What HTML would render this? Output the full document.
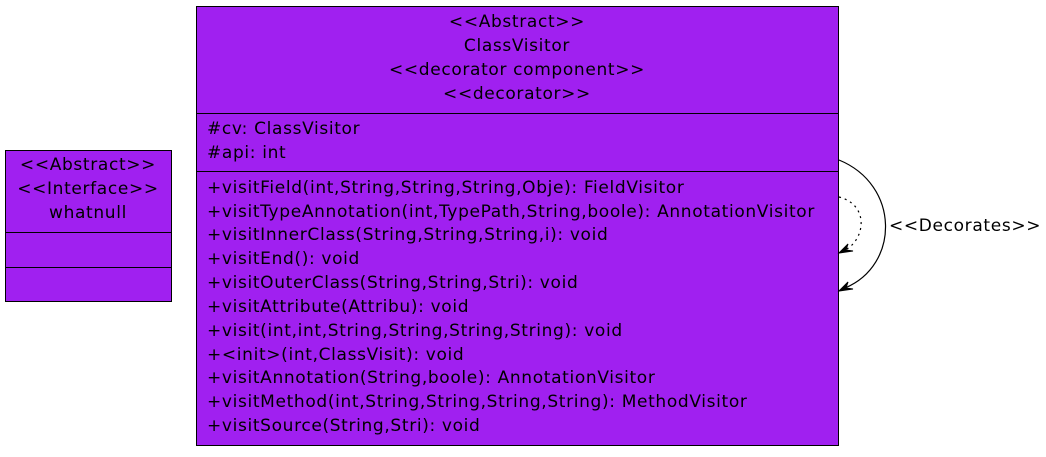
<!DOCTYPE html>
<html><head><style>body{margin:0;background:#fff}</style></head><body>
<svg width="1046" height="452" xmlns="http://www.w3.org/2000/svg" font-family="DejaVu Sans, sans-serif" font-size="17" letter-spacing="0.65" fill="#000">
<rect width="1046" height="452" fill="#fff"/>
<rect x="5.5" y="150.5" width="166" height="151" fill="#a020f0" stroke="#000"/>
<line x1="5" y1="232.5" x2="172" y2="232.5" stroke="#000"/>
<line x1="5" y1="267.5" x2="172" y2="267.5" stroke="#000"/>
<g text-anchor="middle">
<text x="88" y="170">&lt;&lt;Abstract&gt;&gt;</text>
<text x="88" y="194">&lt;&lt;Interface&gt;&gt;</text>
<text x="88" y="218">whatnull</text>
</g>
<rect x="196.5" y="6.5" width="642" height="439" fill="#a020f0" stroke="#000"/>
<line x1="196" y1="113.5" x2="839" y2="113.5" stroke="#000"/>
<line x1="196" y1="171.5" x2="839" y2="171.5" stroke="#000"/>
<g text-anchor="middle">
<text x="517" y="27">&lt;&lt;Abstract&gt;&gt;</text>
<text x="517" y="51">ClassVisitor</text>
<text x="517" y="75">&lt;&lt;decorator component&gt;&gt;</text>
<text x="517" y="99">&lt;&lt;decorator&gt;&gt;</text>
</g>
<g>
<text x="207" y="134">#cv: ClassVisitor</text>
<text x="207" y="158">#api: int</text>
<text x="207" y="193">+visitField(int,String,String,String,Obje): FieldVisitor</text>
<text x="207" y="217">+visitTypeAnnotation(int,TypePath,String,boole): AnnotationVisitor</text>
<text x="207" y="240">+visitInnerClass(String,String,String,i): void</text>
<text x="207" y="264">+visitEnd(): void</text>
<text x="207" y="288">+visitOuterClass(String,String,Stri): void</text>
<text x="207" y="312">+visitAttribute(Attribu): void</text>
<text x="207" y="336">+visit(int,int,String,String,String,String): void</text>
<text x="207" y="360">+&lt;init&gt;(int,ClassVisit): void</text>
<text x="207" y="383">+visitAnnotation(String,boole): AnnotationVisitor</text>
<text x="207" y="407">+visitMethod(int,String,String,String,String): MethodVisitor</text>
<text x="207" y="431">+visitSource(String,Stri): void</text>
</g>
<path d="M839,160 C900,185 900,265 845,288" fill="none" stroke="#000" stroke-width="1.2"/>
<path d="M839,291 L848,282 L846,288 L853,289 Z" fill="#000" stroke="#000"/>
<path d="M839,197 C870,205 865,240 845,250" fill="none" stroke="#000" stroke-width="1.2" stroke-dasharray="2,4"/>
<path d="M839,253 L848,244 L846,250 L853,251 Z" fill="#000" stroke="#000"/>
<text x="889" y="231">&lt;&lt;Decorates&gt;&gt;</text>
</svg>
</body></html>
